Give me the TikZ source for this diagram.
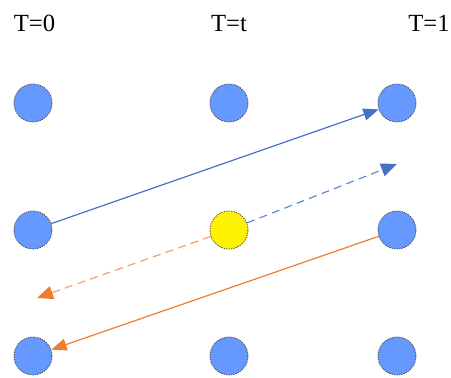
\documentclass[tikz,border=0pt]{standalone}
\usepackage{fontspec}
\setmainfont{Liberation Serif}
\usetikzlibrary{arrows.meta}
\definecolor{dotblue}{HTML}{6699FF}
\definecolor{lineblue}{HTML}{4472C4}
\definecolor{dashblue}{HTML}{5B8BDB}
\definecolor{lineorange}{HTML}{ED7D31}
\definecolor{dashorange}{HTML}{F4A070}
\begin{document}
\begin{tikzpicture}[x=0.75pt,y=-0.75pt,
  dot/.style={circle,minimum size=28.5pt,inner sep=0pt,fill=dotblue,draw=black!70,line width=0.6pt,dash pattern=on 1pt off 0.8pt},
  hot/.style={dot,fill=yellow},
  lbl/.style={anchor=base,font=\fontsize{18.5}{20}\selectfont,inner sep=0pt},
  conn/.style={line width=0.9pt},
  blueconn/.style={conn,draw=lineblue,-{Triangle[length=11.5pt,width=9pt,color=lineblue]}},
  orangeconn/.style={conn,draw=lineorange,-{Triangle[length=11.5pt,width=9pt,color=lineorange]}},
  bluedash/.style={conn,draw=dashblue,dash pattern=on 6pt off 4pt,-{Triangle[length=12pt,width=10pt,color=lineblue]}},
  orangedash/.style={conn,draw=dashorange,dash pattern=on 6pt off 4pt,-{Triangle[length=12pt,width=10pt,color=lineorange]}}]
\useasboundingbox (0,0) rectangle (451,378);
\node[lbl] (l0) at (34.5,32) {T=0};
\node[lbl] (lt) at (229,32) {T=t};
\node[lbl] (l1) at (429,32) {T=1};
\node[dot] (a0) at (33,103) {};
\node[dot] (b0) at (229,103) {};
\node[dot] (c0) at (397,103) {};
\node[dot] (a1) at (33,230) {};
\node[hot] (b1) at (229,230) {};
\node[dot] (c1) at (397,230) {};
\node[dot] (a2) at (33,356) {};
\node[dot] (b2) at (229,356) {};
\node[dot] (c2) at (397,356) {};
\coordinate (eb) at (397,164);
\coordinate (eo) at (37,298);
\draw[blueconn] (a1) -- (c0);
\draw[orangeconn] (c1) -- (a2);
\draw[bluedash] (b1) -- (eb);
\draw[orangedash] (b1) -- (eo);
\end{tikzpicture}
\end{document}
